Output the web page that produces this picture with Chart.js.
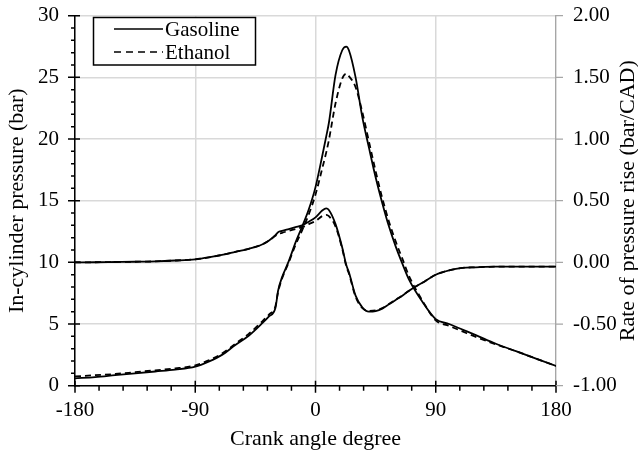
<!DOCTYPE html>
<html>
<head>
<meta charset="utf-8">
<script src="https://cdn.jsdelivr.net/npm/chart.js@4.4.1/dist/chart.umd.min.js"></script>
<style>
  body { margin: 0; background: #fff; }
  #wrap { width: 638px; height: 451px; position: relative; }
</style>
</head>
<body>
<div id="wrap"><canvas id="myChart"></canvas></div>
<script>
// crank angle (deg) shared by all four curves
const angle = [-180, -165, -150, -135, -120, -105, -90, -80, -70, -60, -50, -40, -35, -30, -28, -25, -20, -15, -10, -5,
  0, 5, 8, 10, 15, 20, 23, 25, 30, 35, 40, 45, 50, 55, 60, 65, 70, 80, 90, 100, 110, 120, 135, 150, 165, 180];

// in-cylinder pressure (bar), left axis
const pressGasoline = [0.6, 0.7, 0.85, 1.0, 1.15, 1.3, 1.54, 1.95, 2.5, 3.3, 4.05, 5.05, 5.6, 6.3, 7.7, 8.8, 10.1, 11.6, 12.9, 14.3,
  16.1, 18.6, 20.2, 21.3, 25.2, 27.2, 27.5, 27.2, 25.0, 21.8, 19.3, 16.9, 14.8, 12.9, 11.3, 9.9, 8.6, 6.8, 5.4, 5.0, 4.55, 4.1, 3.4, 2.8, 2.2, 1.6];
const pressEthanol = [0.75, 0.85, 0.95, 1.1, 1.25, 1.4, 1.65, 2.05, 2.6, 3.4, 4.2, 5.2, 5.75, 6.45, 7.6, 8.7, 10.0, 11.4, 12.6, 13.9,
  15.5, 17.6, 18.9, 19.9, 22.9, 24.9, 25.3, 25.1, 24.2, 22.2, 19.8, 17.4, 15.2, 13.3, 11.7, 10.3, 8.9, 6.9, 5.3, 4.85, 4.4, 3.95, 3.35, 2.8, 2.2, 1.6];

// rate of pressure rise (bar/CAD), right axis
const rateGasoline = [0.0, 0.001, 0.003, 0.005, 0.008, 0.015, 0.025, 0.04, 0.06, 0.085, 0.11, 0.145, 0.175, 0.22, 0.245, 0.255, 0.27, 0.285, 0.30, 0.33,
  0.365, 0.42, 0.438, 0.425, 0.31, 0.12, -0.02, -0.08, -0.27, -0.365, -0.40, -0.395, -0.375, -0.34, -0.305, -0.27, -0.23, -0.165, -0.10, -0.065, -0.045, -0.04, -0.035, -0.035, -0.035, -0.035];
const rateEthanol = [0.0, 0.001, 0.003, 0.005, 0.008, 0.015, 0.025, 0.04, 0.06, 0.085, 0.11, 0.145, 0.175, 0.215, 0.23, 0.24, 0.255, 0.27, 0.285, 0.31,
  0.335, 0.375, 0.385, 0.375, 0.29, 0.11, -0.03, -0.09, -0.28, -0.37, -0.393, -0.39, -0.37, -0.338, -0.303, -0.268, -0.23, -0.165, -0.10, -0.065, -0.045, -0.04, -0.035, -0.035, -0.035, -0.035];

const xTicks = [-180, -90, 0, 90, 180];
const serif = "'Liberation Serif', 'Times New Roman', serif";

function pts(ys) {
  return angle.map((a, i) => ({ x: a, y: ys[i] }));
}

// ticks that cross the axis lines, minor ticks, titles and legend
const decor = {
  id: 'decor',
  afterDraw(chart) {
    const ctx = chart.ctx;
    const xs = chart.scales.x, ys = chart.scales.y, yr = chart.scales.y1;
    const L = xs.left, R = xs.right, B = ys.bottom;
    ctx.save();
    ctx.strokeStyle = '#000';
    ctx.lineWidth = 1.5;
    ctx.beginPath();
    // left axis
    for (let v = 0; v <= 30; v++) {
      const y = ys.getPixelForValue(v);
      if (v % 5 === 0) { ctx.moveTo(L - 7, y); ctx.lineTo(L + 5, y); }
      else { ctx.moveTo(L - 4, y); ctx.lineTo(L, y); }
    }
    // bottom axis
    for (let v = -180; v <= 180; v += 18) {
      const x = xs.getPixelForValue(v);
      if (v % 90 === 0) { ctx.moveTo(x, B - 5); ctx.lineTo(x, B + 7); }
      else { ctx.moveTo(x, B); ctx.lineTo(x, B + 5); }
    }
    ctx.stroke();
    // right axis ticks
    ctx.strokeStyle = '#a6a6a6';
    ctx.lineWidth = 1.2;
    ctx.beginPath();
    for (let v = -1; v <= 2; v += 0.5) {
      const y = yr.getPixelForValue(v);
      ctx.moveTo(R, y); ctx.lineTo(R + 7, y);
    }
    ctx.stroke();

    // axis titles
    ctx.fillStyle = '#000';
    ctx.font = '22px ' + serif;
    ctx.textAlign = 'center';
    ctx.textBaseline = 'alphabetic';
    ctx.fillText('Crank angle degree', (L + R) / 2, 445);
    const midY = (ys.top + ys.bottom) / 2;
    ctx.save();
    ctx.translate(23, midY);
    ctx.rotate(-Math.PI / 2);
    ctx.fillText('In-cylinder pressure (bar)', 0, 0);
    ctx.restore();
    ctx.save();
    ctx.translate(634, midY);
    ctx.rotate(-Math.PI / 2);
    ctx.fillText('Rate of pressure rise (bar/CAD)', 0, 0);
    ctx.restore();

    // legend
    ctx.fillStyle = '#fff';
    ctx.fillRect(93.5, 17.5, 162, 47.5);
    ctx.strokeStyle = '#000';
    ctx.lineWidth = 1.5;
    ctx.strokeRect(93.5, 17.5, 162, 47.5);
    ctx.beginPath();
    ctx.moveTo(114, 29); ctx.lineTo(163, 29);
    ctx.stroke();
    ctx.setLineDash([7, 5]);
    ctx.beginPath();
    ctx.moveTo(114, 52); ctx.lineTo(163, 52);
    ctx.stroke();
    ctx.setLineDash([]);
    ctx.fillStyle = '#000';
    ctx.font = '21px ' + serif;
    ctx.textAlign = 'left';
    ctx.fillText('Gasoline', 165, 36);
    ctx.fillText('Ethanol', 165, 59);
    ctx.restore();
  }
};

const line = (label, data, axis, dashed) => ({
  label: label,
  data: pts(data),
  yAxisID: axis,
  borderColor: '#000',
  borderWidth: 1.8,
  borderDash: dashed ? [6, 4] : [],
  pointRadius: 0,
  fill: false,
  cubicInterpolationMode: 'monotone'
});

const fixV = w => s => { s.width = w; s.paddingTop = 0; s.paddingBottom = 0; };

const config = {
  type: 'line',
  data: {
    datasets: [
      line('Gasoline', pressGasoline, 'y', false),
      line('Ethanol', pressEthanol, 'y', true),
      line('Gasoline rate', rateGasoline, 'y1', false),
      line('Ethanol rate', rateEthanol, 'y1', true)
    ]
  },
  plugins: [decor],
  options: {
    responsive: true,
    maintainAspectRatio: false,
    animation: false,
    layout: { padding: { top: 15.7, right: 0, left: 0, bottom: 0 } },
    plugins: { legend: { display: false }, tooltip: { enabled: false } },
    scales: {
      x: {
        type: 'linear',
        min: -180, max: 180,
        afterBuildTicks: s => { s.ticks = xTicks.map(v => ({ value: v })); },
        afterFit: s => { s.height = 65.3; s.paddingLeft = 0; s.paddingRight = 0; },
        ticks: { color: '#000', font: { family: serif, size: 21 }, padding: 12 },
        grid: { color: '#d9d9d9', lineWidth: 1.5, drawTicks: false },
        border: { color: '#000', width: 1.5 }
      },
      y: {
        position: 'left',
        min: 0, max: 30,
        afterFit: fixV(75),
        ticks: { stepSize: 5, color: '#000', font: { family: serif, size: 21 }, padding: 16 },
        grid: { color: '#d9d9d9', lineWidth: 1.5, drawTicks: false },
        border: { color: '#000', width: 1.5 }
      },
      y1: {
        position: 'right',
        min: -1, max: 2,
        afterFit: fixV(82),
        ticks: { stepSize: 0.5, color: '#000', font: { family: serif, size: 21 }, padding: 17,
          callback: v => v.toFixed(2) },
        grid: { drawOnChartArea: false, drawTicks: false },
        border: { color: '#a6a6a6', width: 1.2 }
      }
    }
  }
};

new Chart(document.getElementById('myChart'), config);
</script>
</body>
</html>
